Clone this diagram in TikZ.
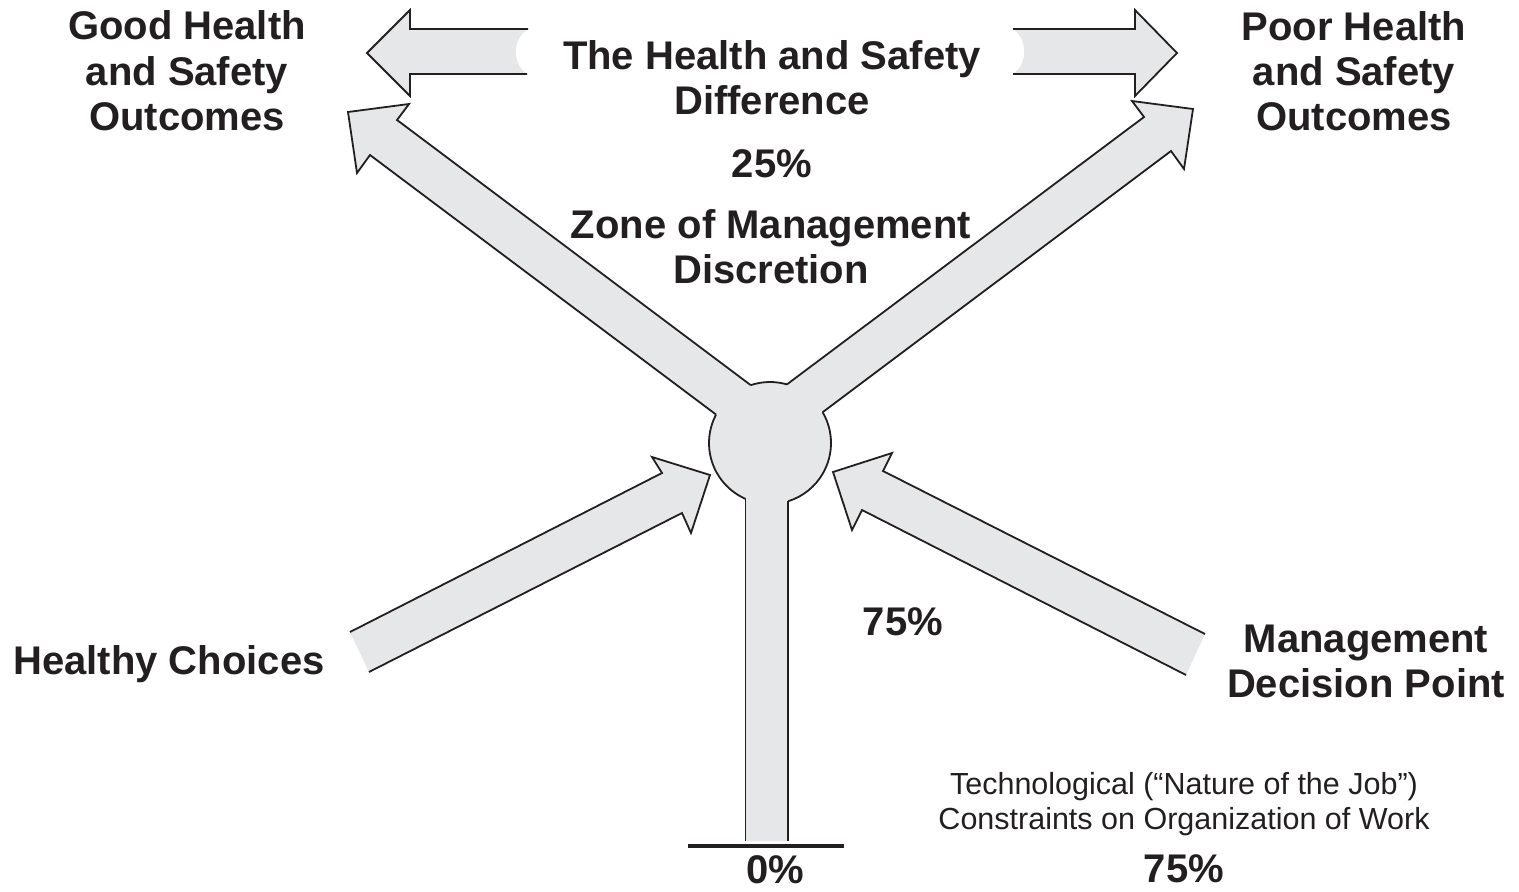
\documentclass[tikz,border=0pt]{standalone}
\usepackage{fontspec}
\setmainfont{Liberation Sans}
\usetikzlibrary{calc}
\definecolor{boxgray}{HTML}{E6E7E8}
\definecolor{ink}{HTML}{231F20}
\begin{document}
\begin{tikzpicture}[x=1pt,y=-1pt,
  shapefill/.style={fill=boxgray},
  outline/.style={draw=ink, line width=1.8pt, line join=miter},
  bigtext/.style={font=\fontsize{40}{45}\selectfont\bfseries, text=ink, inner sep=0pt, anchor=base},
  smalltext/.style={font=\fontsize{30.5}{35}\selectfont, text=ink, inner sep=0pt, anchor=base}]
\useasboundingbox (0,0) rectangle (1519,892);
% hub
\coordinate (C) at (770,443);
\coordinate (ULa) at ($(C)+(251.6:61)$);
\coordinate (ULb) at ($(C)+(207.8:61)$);
\coordinate (URa) at ($(C)+(-73.9:61)$);
\coordinate (URb) at ($(C)+(-30.3:61)$);
\coordinate (STl) at ($(C)+(113.7:61)$);
\coordinate (STr) at ($(C)+(72.5:61)$);
% fills
\fill[shapefill] (C) circle[radius=61];
\fill[shapefill] (ULa) -- (397,120) -- (409,104) -- (348,112) -- (357,173) -- (370,155) -- (ULb) -- (C) -- cycle;
\fill[shapefill] (URa) -- (1144,117) -- (1132,101) -- (1193,109) -- (1184,169) -- (1171,151) -- (URb) -- (C) -- cycle;
\fill[shapefill] (350,632) -- (662,473) -- (652,457) -- (710,475) -- (691,533) -- (682,513) -- (369,672) -- cycle;
\fill[shapefill] (1205,634) -- (883,471) -- (892,453) -- (833,472) -- (852,530) -- (862,510) -- (1186,675) -- cycle;
\fill[shapefill] (STl) -- (STl |- 0,841) -- (STr |- 0,841) -- (STr) -- (C) -- cycle;
\fill[shapefill] (528,29) -- (410,29) -- (410,10) -- (367,53) -- (410,96) -- (410,74) -- (527,74) .. controls (512,64) and (512,39) .. (528,29) -- cycle;
\fill[shapefill] (1013,29) -- (1135,29) -- (1135,10) -- (1177,53) -- (1135,96) -- (1135,74) -- (1013,74) .. controls (1028,64) and (1028,39) .. (1013,29) -- cycle;
% outlines
\draw[outline] (URb) arc[start angle=-30.3, end angle=72.5, radius=61];
\draw[outline] (STl) arc[start angle=113.7, end angle=207.8, radius=61];
\draw[outline] (ULa) arc[start angle=251.6, end angle=286.1, radius=61];
\draw[outline] (ULa) -- (397,120) -- (409,104) -- (348,112) -- (357,173) -- (370,155) -- (ULb);
\draw[outline] (URa) -- (1144,117) -- (1132,101) -- (1193,109) -- (1184,169) -- (1171,151) -- (URb);
\draw[outline] (350,632) -- (662,473) -- (652,457) -- (710,475) -- (691,533) -- (682,513) -- (369,672);
\draw[outline] (1205,634) -- (883,471) -- (892,453) -- (833,472) -- (852,530) -- (862,510) -- (1186,675);
\draw[outline] (STl) -- (STl |- 0,841);
\draw[outline] (STr) -- (STr |- 0,841);
\draw[outline] (528,29) -- (410,29) -- (410,10) -- (367,53) -- (410,96) -- (410,74) -- (527,74);
\draw[outline] (1013,29) -- (1135,29) -- (1135,10) -- (1177,53) -- (1135,96) -- (1135,74) -- (1013,74);
% base line
\coordinate (B1) at (688,846);
\coordinate (B2) at (844,846);
\draw[draw=ink, line width=4.5pt] (B1) -- (B2);
% texts
\node[bigtext] (good1) at (187,39) {Good Health};
\node[bigtext] (good2) at (187,85) {and Safety};
\node[bigtext] (good3) at (187,130) {Outcomes};
\node[bigtext] (poor1) at (1354,40) {Poor Health};
\node[bigtext] (poor2) at (1354,85) {and Safety};
\node[bigtext] (poor3) at (1354,130) {Outcomes};
\node[bigtext] (diff1) at (772,69) {The Health and Safety};
\node[bigtext] (diff2) at (772,114) {Difference};
\node[bigtext] (pct25) at (772,177) {25\%};
\node[bigtext] (zone1) at (771,238) {Zone of Management};
\node[bigtext] (zone2) at (771,283) {Discretion};
\node[bigtext] (healthy) at (169,674) {Healthy Choices};
\node[bigtext] (pct75a) at (903,635) {75\%};
\node[bigtext] (mgmt1) at (1366,652) {Management};
\node[bigtext] (mgmt2) at (1366,697) {Decision Point};
\node[smalltext] (tech1) at (1184,794) {Technological (“Nature of the Job”)};
\node[smalltext] (tech2) at (1184,829) {Constraints on Organization of Work};
\node[bigtext] (pct75b) at (1184,882) {75\%};
\node[bigtext] (pct0) at (775,883) {0\%};
\end{tikzpicture}
\end{document}
